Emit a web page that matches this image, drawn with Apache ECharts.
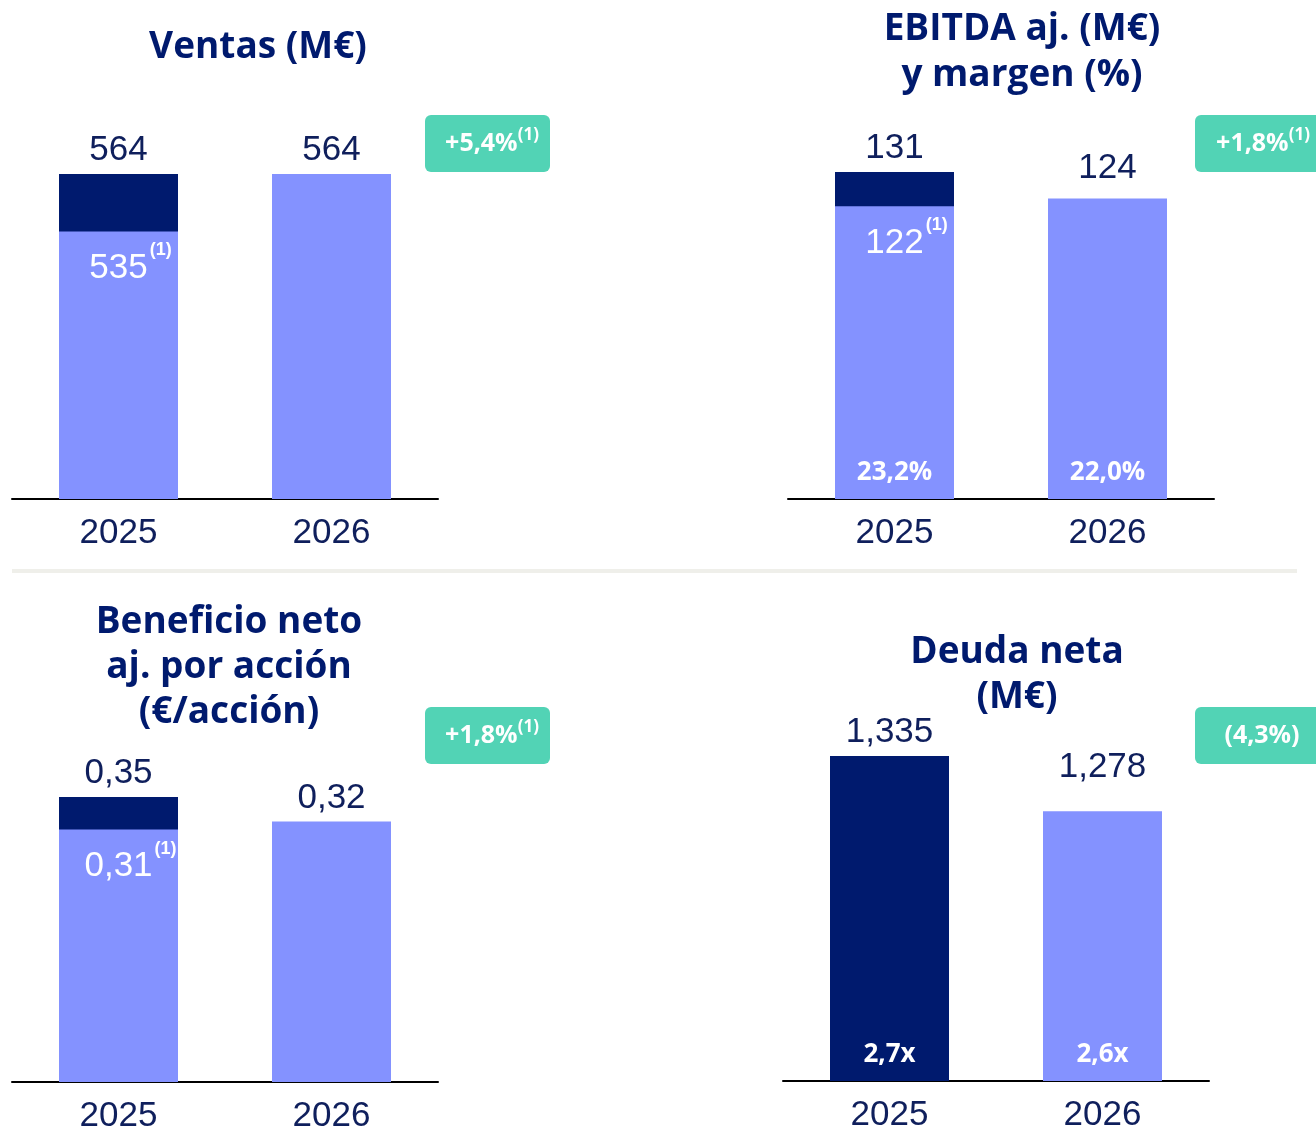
<!DOCTYPE html>
<html>
<head>
<meta charset="utf-8">
<script src="https://cdn.jsdelivr.net/npm/echarts@6/dist/echarts.min.js"></script>
<style>
  html, body { margin: 0; padding: 0; background: #fff; }
  #chart { width: 1316px; height: 1129px; }
</style>
</head>
<body>
<div id="chart"></div>
<script>
// categorías y valores
const years = ['2025', '2026'];

const ventasReported = [564, null];
const ventasBase = [535, 564];

const ebitdaReported = [131, null];
const ebitdaBase = [122, 124];
const ebitdaMargin = ['23,2%', '22,0%'];

const bpaReported = [0.35, null];
const bpaBase = [0.31, 0.32];

const deuda = [1335, 1278];
const deudaRatio = ['2,7x', '2,6x'];

const titles = ['Ventas (M€)', 'EBITDA aj. (M€)\ny margen (%)', 'Beneficio neto\naj. por acción\n(€/acción)', 'Deuda neta\n(M€)'];
const badgeMain = ['+5,4%', '+1,8%', '+1,8%', '(4,3%)'];
const badgeNote = ['(1)', '(1)', '(1)', ''];

const NAVY = '#001a6e';
const LIGHT = '#8492ff';
const TEXT = '#0f1f5c';
const GREEN = '#52d3b5';
const NUM_FONT = "'Liberation Sans', Arial, sans-serif";
const BOLD_FONT = "'Open Sans', 'Noto Sans', sans-serif";

const grids = [
  { left: 12, top: 174, width: 426, height: 325 },
  { left: 788, top: 172, width: 426, height: 327 },
  { left: 12, top: 797, width: 426, height: 285 },
  { left: 783, top: 756, width: 426, height: 325 }
];
const yRange = [[400, 564], [45, 131], [0, 0.35], [1000, 1335]];

const fmtInt = v => String(v);
const fmtDec = v => v.toFixed(2).replace('.', ',');
const fmtThousand = v => v.toLocaleString('en-US');

const topLabel = (fmt, extra) => ({
  show: true, position: 'top', distance: 6 + (extra || 0),
  color: TEXT, fontFamily: NUM_FONT, fontSize: 35,
  formatter: p => fmt(p.value)
});

const innerLabel = fmt => ({
  show: true, position: 'insideTop', distance: 10, offset: [12, 0],
  formatter: p => '{v|' + fmt(p.value) + '}{s|(1)}',
  rich: {
    v: { color: '#fff', fontFamily: NUM_FONT, fontSize: 35, lineHeight: 54 },
    s: { color: '#fff', fontFamily: NUM_FONT, fontSize: 18, fontWeight: 'bold', verticalAlign: 'top', lineHeight: 18, padding: [0, 0, 0, 2] }
  }
});

const bottomLabel = texts => ({
  show: true, position: 'insideBottom', distance: 13,
  color: '#fff', fontFamily: BOLD_FONT, fontWeight: 'bold', fontSize: 26,
  formatter: p => texts[p.dataIndex]
});

// barra oscura (reportado) + barra clara (comparable) superpuestas
function stackedSeries(idx, reported, base, fmt, lift) {
  return [
    {
      type: 'bar', xAxisIndex: idx, yAxisIndex: idx, barWidth: 119, barGap: '-100%',
      itemStyle: { color: NAVY }, silent: true,
      data: reported, label: topLabel(fmt)
    },
    {
      type: 'bar', xAxisIndex: idx, yAxisIndex: idx, barWidth: 119, barGap: '-100%',
      itemStyle: { color: LIGHT }, silent: true,
      data: base.map((v, i) => ({
        value: v,
        label: reported[i] != null ? innerLabel(fmt) : topLabel(fmt, lift)
      }))
    }
  ];
}

const series = [
  ...stackedSeries(0, ventasReported, ventasBase, fmtInt, 0),
  ...stackedSeries(1, ebitdaReported, ebitdaBase, fmtInt, 7),
  {
    type: 'bar', xAxisIndex: 1, yAxisIndex: 1, barWidth: 119, barGap: '-100%',
    itemStyle: { color: 'transparent' }, silent: true,
    data: ebitdaBase, label: bottomLabel(ebitdaMargin)
  },
  ...stackedSeries(2, bpaReported, bpaBase, fmtDec, 0),
  {
    type: 'bar', xAxisIndex: 3, yAxisIndex: 3, barWidth: 119, silent: true,
    data: deuda.map((v, i) => ({
      value: v,
      itemStyle: { color: i === 0 ? NAVY : LIGHT },
      label: topLabel(fmtThousand, i === 0 ? 0 : 20)
    }))
  },
  {
    type: 'bar', xAxisIndex: 3, yAxisIndex: 3, barWidth: 119, barGap: '-100%',
    itemStyle: { color: 'transparent' }, silent: true,
    data: deuda, label: bottomLabel(deudaRatio)
  }
];

const titleCenters = [[258, 47, 46], [1022, 52, 46], [229, 667, 45], [1017, 675, 45]];
const badgeBoxes = [[425, 115, 125, 57, 492], [1195, 115, 130, 57, 1263], [425, 707, 125, 57, 492], [1195, 707, 130, 57, 1262]];

const graphic = [
  { type: 'rect', shape: { x: 12, y: 569, width: 1285, height: 4 }, style: { fill: '#efefea' }, silent: true },
  ...titles.map((t, i) => ({
    type: 'text', x: titleCenters[i][0], y: titleCenters[i][1], silent: true,
    style: {
      text: t, fill: NAVY, font: 'bold 37px ' + BOLD_FONT,
      align: 'center', verticalAlign: 'middle', lineHeight: titleCenters[i][2]
    }
  })),
  ...badgeBoxes.map((b, i) => ({
    type: 'group', silent: true,
    children: [
      { type: 'rect', shape: { x: b[0], y: b[1], width: b[2], height: b[3], r: 6 }, style: { fill: GREEN } },
      {
        type: 'text', x: b[4], y: b[1] + 29,
        style: {
          text: '{m|' + badgeMain[i] + '}' + (badgeNote[i] ? '{s|' + badgeNote[i] + '}' : ''),
          align: 'center', verticalAlign: 'middle',
          rich: {
            m: { fill: '#fff', font: 'bold 25px ' + BOLD_FONT, lineHeight: 34 },
            s: { fill: '#fff', font: 'bold 17px ' + BOLD_FONT, verticalAlign: 'top', lineHeight: 20 }
          }
        }
      }
    ]
  }))
];

const chart = echarts.init(document.getElementById('chart'));
chart.setOption({
  animation: false,
  grid: grids.map(g => Object.assign({ outerBoundsMode: 'none', containLabel: false }, g)),
  xAxis: grids.map((g, i) => ({
    type: 'category', gridIndex: i, data: years,
    axisLine: { onZero: false, lineStyle: { color: '#000', width: 2 } },
    axisTick: { show: false },
    axisLabel: { color: TEXT, fontFamily: NUM_FONT, fontSize: 35, margin: 17 }
  })),
  yAxis: grids.map((g, i) => ({
    type: 'value', gridIndex: i, min: yRange[i][0], max: yRange[i][1],
    show: false, splitLine: { show: false }
  })),
  series,
  graphic
});
</script>
</body>
</html>
